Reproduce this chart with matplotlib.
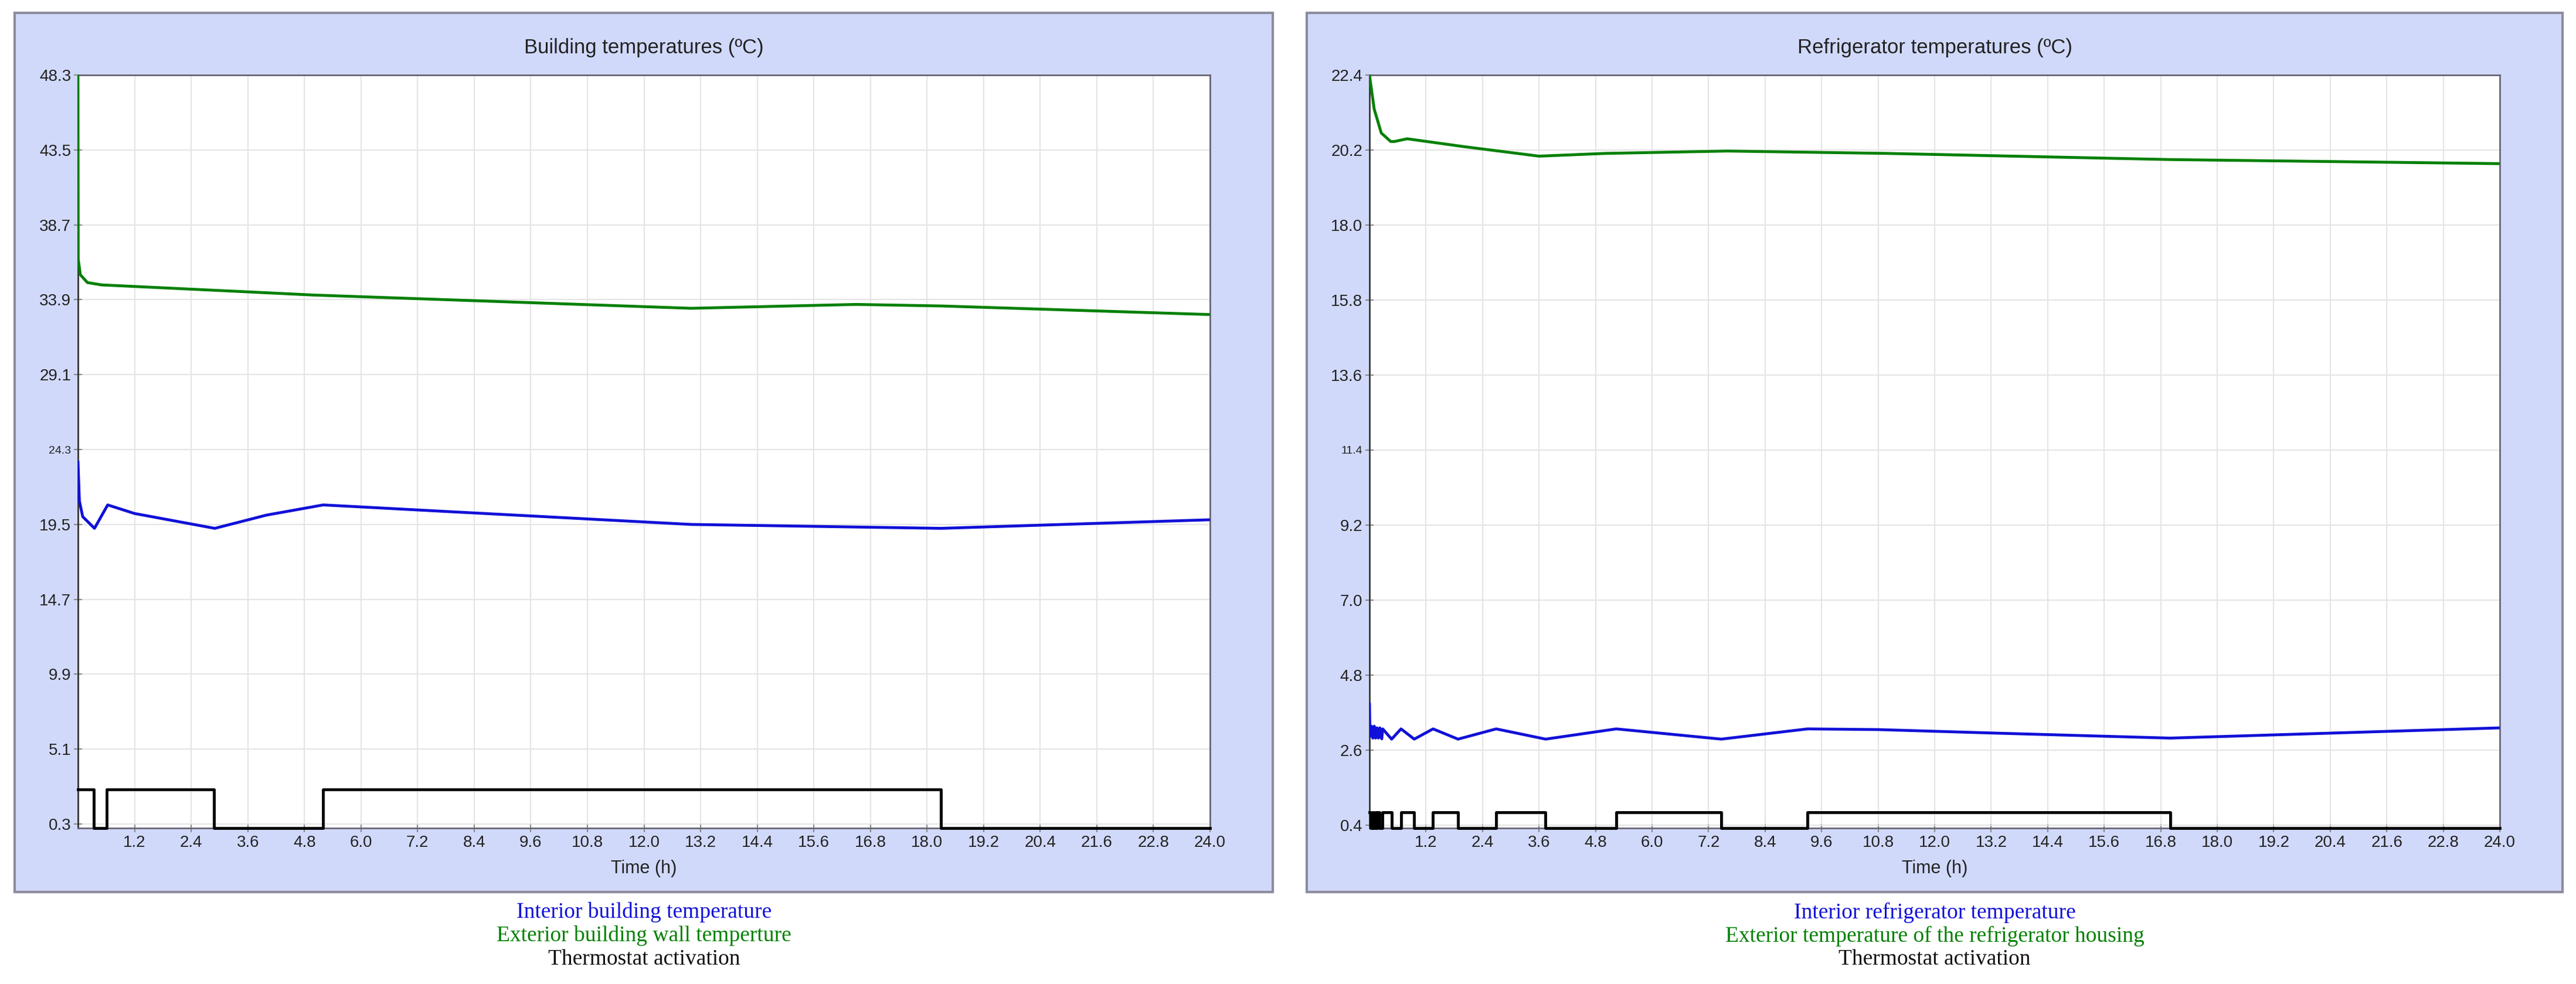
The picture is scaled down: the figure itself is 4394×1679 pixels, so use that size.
import matplotlib
matplotlib.use("Agg")
import matplotlib.pyplot as plt
from matplotlib.patches import Rectangle
import numpy as np

W, H = 4394, 1679
# ---- data ----
xticks = [1.2, 2.4, 3.6, 4.8, 6.0, 7.2, 8.4, 9.6, 10.8, 12.0, 13.2, 14.4, 15.6, 16.8, 18.0, 19.2, 20.4, 21.6, 22.8, 24.0]

b_yticks = [0.3, 5.1, 9.9, 14.7, 19.5, 24.3, 29.1, 33.9, 38.7, 43.5, 48.3]
b_int_t = [0, 0.03, 0.1, 0.35, 0.63, 1.2, 2.9, 4.0, 5.2, 8.0, 13.0, 18.3, 24.0]
b_int_v = [23.5, 21.0, 20.0, 19.25, 20.75, 20.2, 19.25, 20.1, 20.75, 20.3, 19.5, 19.25, 19.8]
b_ext_t = [0, 0.005, 0.05, 0.2, 0.5, 1.2, 5.0, 13.0, 16.5, 18.3, 24.0]
b_ext_v = [48.3, 36.5, 35.5, 35.0, 34.85, 34.75, 34.2, 33.35, 33.6, 33.5, 32.95]
b_th_t = [0, 0.33, 0.61, 2.88, 5.2, 18.3, 24.0]
b_th_s = [1, 0, 1, 0, 1, 0, 0]

r_yticks = [0.4, 2.6, 4.8, 7.0, 9.2, 11.4, 13.6, 15.8, 18.0, 20.2, 22.4]
r_int_t = [0, 0.01, 0.04, 0.07, 0.1, 0.13, 0.16, 0.19, 0.22, 0.26, 0.28, 0.47, 0.67, 0.95, 1.35, 1.88, 2.69, 3.74, 5.24, 7.47, 9.3, 10.8, 13.2, 17.0, 24.0]
r_int_v = [3.95, 3.0, 3.3, 2.95, 3.3, 2.95, 3.25, 2.95, 3.25, 2.93, 3.22, 2.92, 3.22, 2.92, 3.22, 2.92, 3.22, 2.92, 3.22, 2.92, 3.22, 3.2, 3.1, 2.95, 3.25]
r_ext_t = [0, 0.1, 0.25, 0.45, 0.53, 0.8, 2.0, 3.6, 5.0, 7.6, 11.0, 17.0, 24.0]
r_ext_v = [22.4, 21.4, 20.7, 20.45, 20.45, 20.53, 20.3, 20.02, 20.1, 20.17, 20.1, 19.92, 19.8]
r_th_t = [0, 0.03, 0.06, 0.09, 0.12, 0.15, 0.18, 0.21, 0.24, 0.28, 0.47, 0.67, 0.95, 1.35, 1.88, 2.69, 3.74, 5.24, 7.47, 9.3, 17.0, 24.0]
r_th_s = [1, 0, 1, 0, 1, 0, 1, 0, 0, 1, 0, 1, 0, 1, 0, 1, 0, 1, 0, 1, 0, 0]

panels = [
    dict(title="Building temperatures (ºC)", yticks=b_yticks, ylim=(0.04, 48.3), small=24.3,
         it=b_int_t, iv=b_int_v, et=b_ext_t, ev=b_ext_v, tt=b_th_t, ts=b_th_s, lo=0.04, hi=2.5,
         leg=["Interior building temperature", "Exterior building wall temperture", "Thermostat activation"],
         outer=(25, 2171), ax=(133, 2064)),
    dict(title="Refrigerator temperatures (ºC)", yticks=r_yticks, ylim=(0.31, 22.4), small=11.4,
         it=r_int_t, iv=r_int_v, et=r_ext_t, ev=r_ext_v, tt=r_th_t, ts=r_th_s, lo=0.31, hi=0.78,
         leg=["Interior refrigerator temperature", "Exterior temperature of the refrigerator housing", "Thermostat activation"],
         outer=(2229, 4371), ax=(2336, 4264)),
]

sans = ['Liberation Sans Narrow', 'Liberation Sans', 'DejaVu Sans']
serif = ['Liberation Serif', 'DejaVu Serif']

fig = plt.figure(figsize=(W / 100, H / 100), dpi=100)
top_px, bot_px = 128, 1413

for p in panels:
    ox0, ox1 = p['outer']
    fig.patches.append(Rectangle((ox0 / W, 1 - 1522 / H), (ox1 - ox0) / W, (1522 - 22) / H,
                                 transform=fig.transFigure, facecolor='#d1d9fb', edgecolor='#8c8c9c', lw=3, zorder=-10))
    a0, a1 = p['ax']
    ax = fig.add_axes([a0 / W, 1 - bot_px / H, (a1 - a0) / W, (bot_px - top_px) / H])
    ax.set_zorder(1)
    ax.set_facecolor('white')
    ax.set_xlim(0, 24)
    ax.set_ylim(*p['ylim'])
    ax.set_xticks(xticks)
    ax.set_xticklabels([f"{x:.1f}" for x in xticks], fontsize=20, family=sans)
    ax.set_yticks(p['yticks'])
    ax.set_yticklabels([f"{y:.1f}" for y in p['yticks']], family=sans)
    for lab, y in zip(ax.get_yticklabels(), p['yticks']):
        lab.set_fontsize(14 if abs(y - p['small']) < 1e-6 else 20)
    ax.grid(True, color='#e4e4e4', lw=1.5)
    ax.set_axisbelow(True)
    ax.tick_params(axis='both', colors='#888888', labelcolor='#222222', length=10, width=1.5, direction='inout')
    for s in ax.spines.values():
        s.set_color('#666677')
        s.set_linewidth(2)
    ax.spines['left'].set_color('#333333')
    ax.plot(p['et'], p['ev'], color='#008000', lw=3.5, zorder=3)
    ax.plot(p['it'], p['iv'], color='#1010d8', lw=3.5, zorder=3)
    lev = [p['hi'] if s else p['lo'] for s in p['ts']]
    ax.plot(p['tt'], lev, drawstyle='steps-post', color='black', lw=3.5, zorder=4, clip_on=False)
    cx = (a0 + a1) / 2 / W
    fig.text(cx, 1 - 82 / H, p['title'], ha='center', va='center', fontsize=25, family=sans, color='#222222')
    fig.text(cx, 1 - 1482 / H, "Time (h)", ha='center', va='center', fontsize=22, family=sans, color='#222222')
    for txt, y, c in zip(p['leg'], [1557, 1597, 1637], ['#1010d8', '#008000', '#111111']):
        fig.text(cx, 1 - y / H, txt, ha='center', va='center', fontsize=27, family=serif, color=c)

fig.savefig("out.png", dpi=100, facecolor='white')
